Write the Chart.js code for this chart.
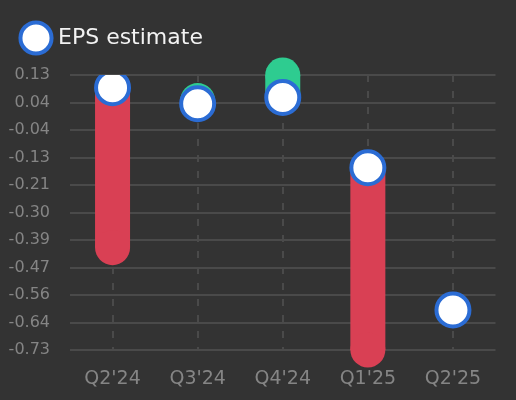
<!DOCTYPE html>
<html lang="en">
<head>
  <meta charset="UTF-8">
  <title>EPS estimate</title>
  <script src="https://cdn.jsdelivr.net/npm/chart.js"></script>
  <style>
    html, body {
      margin: 0;
      padding: 0;
      background-color: #333333;
    }
    #chartContainer {
      width: 516px;
      height: 400px;
    }
  </style>
</head>
<body>
<div id="chartContainer">
  <canvas id="epsChart"></canvas>
</div>

<script>
  const quarters = ["Q2'24", "Q3'24", "Q4'24", "Q1'25", "Q2'25"];
  const epsEstimate = [0.09, 0.04, 0.06, -0.16, -0.605];
  const epsActual = [-0.41, 0.05, 0.13, -0.73, null];
  const yTickValues = [0.13, 0.044, -0.042, -0.128, -0.214, -0.3, -0.386, -0.472, -0.558, -0.644, -0.73];

  const beatColor = '#2ecc90';
  const missColor = '#d94054';
  const pointBlue = '#2b6cd4';
  const gridColor = '#4a4a4a';
  const tickColor = '#858585';

  // estimate points first so they are drawn on top
  const datasets = [{
    label: 'EPS estimate',
    data: quarters.map((q, i) => ({ x: q, y: epsEstimate[i] })),
    showLine: false,
    pointRadius: 16.5,
    pointHoverRadius: 16.5,
    pointBackgroundColor: '#ffffff',
    pointBorderColor: pointBlue,
    pointBorderWidth: 4,
    backgroundColor: '#ffffff',
    borderColor: pointBlue,
    borderWidth: 4
  }];

  // thick segment estimate -> actual, flat under the estimate dot, round at the actual end
  quarters.forEach((q, i) => {
    if (epsActual[i] === null) return;
    const color = epsActual[i] >= epsEstimate[i] ? beatColor : missColor;
    datasets.push({
      label: 'bar ' + q,
      data: [{ x: q, y: epsEstimate[i] }, { x: q, y: epsActual[i] }],
      borderColor: color,
      borderWidth: 35,
      borderCapStyle: 'butt',
      pointRadius: [0, 17.5],
      pointHoverRadius: [0, 17.5],
      pointBackgroundColor: color,
      pointBorderWidth: 0,
      clip: false
    });
  });

  const legendGap = {
    id: 'legendGap',
    beforeInit(chart) {
      const fit = chart.legend.fit;
      chart.legend.fit = function () {
        fit.bind(chart.legend)();
        this.height += 16;
      };
    }
  };

  Chart.defaults.font.family = '"DejaVu Sans", sans-serif';

  new Chart(document.getElementById('epsChart'), {
    type: 'line',
    data: { labels: quarters, datasets: datasets },
    plugins: [legendGap],
    options: {
      responsive: true,
      maintainAspectRatio: false,
      animation: false,
      layout: { padding: { left: 8, right: 20, top: 10, bottom: 0 } },
      plugins: {
        tooltip: { enabled: false },
        legend: {
          align: 'start',
          labels: {
            usePointStyle: true,
            pointStyle: 'circle',
            padding: 17,
            color: '#f2f2f2',
            font: { size: 22 },
            filter: item => item.text === 'EPS estimate'
          }
        }
      },
      scales: {
        x: {
          type: 'category',
          offset: true,
          grid: {
            offset: false,
            color: gridColor,
            lineWidth: 2,
            drawTicks: false
          },
          border: { display: false, dash: [7, 9] },
          ticks: { color: tickColor, font: { size: 19 }, padding: 18 },
          afterFit: scale => { scale.height = 50; }
        },
        y: {
          min: -0.73,
          max: 0.13,
          border: { display: false },
          grid: { color: gridColor, lineWidth: 2, drawTicks: false },
          afterBuildTicks: scale => {
            scale.ticks = yTickValues.map(v => ({ value: v }));
          },
          ticks: {
            color: tickColor,
            font: { size: 16 },
            padding: 20,
            callback: v => Number(v).toFixed(2)
          },
          afterFit: scale => { scale.width = 62; }
        }
      }
    }
  });
</script>
</body>
</html>
